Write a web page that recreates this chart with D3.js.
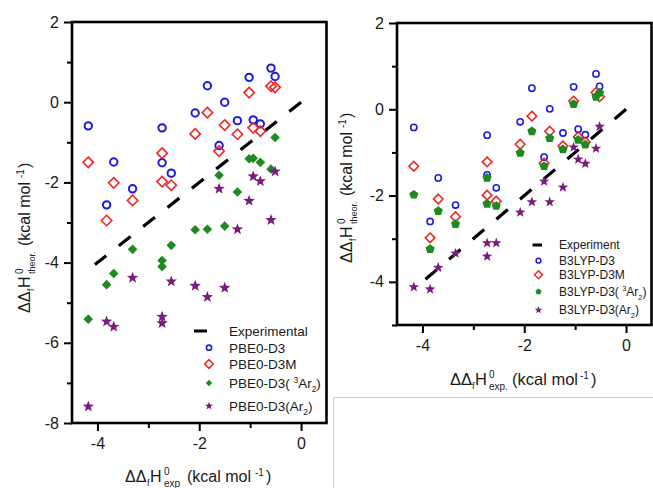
<!DOCTYPE html>
<html><head><meta charset="utf-8">
<script src="https://cdn.jsdelivr.net/npm/d3@7"></script>
<style>
html,body{margin:0;padding:0;background:#fff;}
svg{display:block;font-family:"Liberation Sans",Arial,sans-serif;}
</style></head><body>
<svg id="chart" width="653" height="488"></svg>
<script>
// ---------------- data ----------------
const xTicksMajor = [-4, -2, 0];
const xTicksMinor = [-3, -1];
const leftYTicksMajor = [-8, -6, -4, -2, 0, 2];
const leftYTicksMinor = [-7, -5, -3, -1, 1];
const rightYTicksMajor = [-4, -2, 0, 2];
const rightYTicksMinor = [-5, -3, -1, 1];

// left panel (PBE0)
const leftExpX   = [-4.18, -3.82, -3.68, -3.31, -2.73, -2.73, -2.55, -2.08, -1.84, -1.61, -1.50, -1.25, -1.02, -0.94, -0.80, -0.59, -0.51];
const pbe0D3     = [-0.59, -2.56, -1.49, -2.16, -0.64, -1.51, -1.77, -0.27,  0.41, -1.08,  0.00, -0.46,  0.62, -0.44, -0.54,  0.85,  0.64];
const pbe0D3M    = [-1.50, -2.95, -2.01, -2.45, -1.27, -1.98, -2.07, -0.79, -0.26, -1.22, -0.57, -0.80,  0.24, -0.64, -0.72,  0.40,  0.37];
const pbe0D3tAr2 = [-5.41, -4.55, -4.27, -3.67, -3.95, -4.10, -3.57, -3.18, -3.17, -1.82, -3.09, -2.24, -1.41, -1.40, -1.50, -1.67, -0.88];
const pbe0D3Ar2  = [-7.59, -5.47, -5.60, -4.38, -5.35, -5.51, -4.47, -4.58, -4.86, -2.16, -4.63, -3.17, -2.46, -1.85, -1.97, -2.94, -1.73];
const leftExpLine = [-4.05, 0];

// right panel (B3LYP)
const rightExpX   = [-4.17, -3.85, -3.69, -3.35, -2.73, -2.73, -2.55, -2.08, -1.85, -1.61, -1.50, -1.24, -1.03, -0.94, -0.80, -0.59, -0.52];
const b3lypD3     = [-0.42, -2.60, -1.59, -2.22, -0.60, -1.52, -1.82, -0.29,  0.49, -1.11,  0.01, -0.55,  0.52, -0.46, -0.59,  0.82,  0.53];
const b3lypD3M    = [-1.32, -2.98, -2.08, -2.49, -1.22, -1.99, -2.13, -0.81, -0.16, -1.25, -0.51, -0.85,  0.19, -0.64, -0.76,  0.39,  0.29];
const b3lypD3tAr2 = [-1.98, -3.24, -2.36, -2.66, -1.59, -2.19, -2.24, -1.01, -0.51, -1.32, -0.67, -0.93,  0.12, -0.71, -0.82,  0.29,  0.38];
const b3lypD3Ar2  = [-4.12, -4.17, -3.67, -3.34, -3.41, -3.10, -3.10, -2.39, -2.15, -1.67, -2.15, -1.81, -0.88, -1.16, -1.26, -0.91, -0.40];
const rightExpLine = [-4.05, 0];

const leftLegend  = ["Experimental", "PBE0-D3", "PBE0-D3M", "PBE0-D3(", "PBE0-D3(Ar"];
const rightLegend = ["Experiment", "B3LYP-D3", "B3LYP-D3M", "B3LYP-D3(", "B3LYP-D3(Ar"];

// ---------------- styles ----------------
const C = { blue: "#1c1ce0", red: "#ee2626", green: "#1f8a1f", purple: "#7a1c7e", ink: "#1a1a1a" };

const svg = d3.select("#chart");

// light gray box at bottom right
svg.append("path").attr("d", "M333.5,488 V397.5 H653")
  .attr("fill", "none").attr("stroke", "#cfcfcf").attr("stroke-width", 1);

// symbol paths
const line = d3.line();
function diamondPath(h) { return line([[0,-h],[h,0],[0,h],[-h,0]]) + "Z"; }
function pentagonPath(r) {
  const pts = d3.range(5).map(k => { const a = -Math.PI/2 + k*2*Math.PI/5; return [r*Math.cos(a), r*Math.sin(a)]; });
  return line(pts) + "Z";
}
function starPath(R, r) {
  const pts = d3.range(10).map(k => { const a = -Math.PI/2 + k*Math.PI/5; const rr = k % 2 ? r : R; return [rr*Math.cos(a), rr*Math.sin(a)]; });
  return line(pts) + "Z";
}

function drawMarker(g, kind, sz) {
  if (kind === "circle") {
    g.append("circle").attr("r", sz.c).attr("fill", "none").attr("stroke", C.blue).attr("stroke-width", sz.cw);
  } else if (kind === "diamondOpen") {
    g.append("path").attr("d", diamondPath(sz.d)).attr("fill", "none").attr("stroke", C.red).attr("stroke-width", sz.dw);
  } else if (kind === "diamondFill") {
    g.append("path").attr("d", diamondPath(sz.g)).attr("fill", C.green);
  } else if (kind === "pentagon") {
    g.append("path").attr("d", pentagonPath(sz.g)).attr("fill", C.green);
  } else if (kind === "star") {
    g.append("path").attr("d", starPath(sz.s, sz.s*0.42)).attr("fill", C.purple);
  }
}

function axisTitle(parent, transform, pieces, base) {
  const t = parent.append("text").attr("transform", transform).attr("fill", C.ink);
  pieces.forEach(p => {
    t.append("tspan").attr("x", p[1]).attr("y", p[2]).attr("font-size", p[3] || base).text(p[0]);
  });
}

function drawPanel(cfg) {
  const x = d3.scaleLinear().domain([-4.5, 0.5]).range(cfg.xr);
  const y = d3.scaleLinear().domain(cfg.yd).range(cfg.yr);
  const g = svg.append("g");

  // ticks
  const axB = g.append("g").attr("transform", `translate(0,${cfg.yr[0]})`)
    .call(d3.axisBottom(x).tickValues(xTicksMajor).tickSize(8).tickPadding(7).tickFormat(d => String(d)));
  const axBm = g.append("g").attr("transform", `translate(0,${cfg.yr[0]})`)
    .call(d3.axisBottom(x).tickValues(xTicksMinor).tickSize(5).tickFormat(""));
  const axL = g.append("g").attr("transform", `translate(${cfg.xr[0]},0)`)
    .call(d3.axisLeft(y).tickValues(cfg.yMajor).tickSize(8).tickPadding(5).tickFormat(d => String(d)));
  const axLm = g.append("g").attr("transform", `translate(${cfg.xr[0]},0)`)
    .call(d3.axisLeft(y).tickValues(cfg.yMinor).tickSize(5).tickFormat(""));
  [axB, axBm, axL, axLm].forEach(a => {
    a.select(".domain").remove();
    a.selectAll(".tick line").attr("stroke", "#000").attr("stroke-width", 2);
    a.selectAll(".tick text").attr("fill", C.ink).attr("font-size", 16)
      .attr("font-family", '"Liberation Sans", Arial, sans-serif');
  });

  // experimental line
  g.append("line")
    .attr("x1", x(cfg.expLine[1])).attr("y1", y(cfg.expLine[1]))
    .attr("x2", x(cfg.expLine[0])).attr("y2", y(cfg.expLine[0]))
    .attr("stroke", "#000").attr("stroke-width", 3.2).attr("stroke-dasharray", cfg.dash);

  // series
  cfg.series.forEach(s => {
    s.vals.forEach((v, i) => {
      const m = g.append("g").attr("transform", `translate(${x(cfg.xs[i])},${y(v)})`);
      drawMarker(m, s.kind, cfg.sz);
    });
  });

  // frame
  g.append("rect").attr("x", cfg.xr[0]).attr("y", cfg.yr[1])
    .attr("width", cfg.xr[1] - cfg.xr[0]).attr("height", cfg.yr[0] - cfg.yr[1])
    .attr("fill", "none").attr("stroke", "#000").attr("stroke-width", 2.6);

  // legend
  const L = cfg.legend;
  const lg = g.append("g").attr("font-size", L.fs).attr("fill", C.ink);
  lg.append("line").attr("x1", L.lx[0]).attr("x2", L.lx[1]).attr("y1", L.rows[0]).attr("y2", L.rows[0])
    .attr("stroke", "#000").attr("stroke-width", 3);
  cfg.series.forEach((s, k) => {
    const m = lg.append("g").attr("transform", `translate(${L.mx},${L.rows[k+1]})`);
    drawMarker(m, s.kind, L.sz);
  });
  cfg.labels.forEach((lab, k) => {
    const t = lg.append("text").attr("x", L.tx).attr("y", L.rows[k] + L.fs * 0.36);
    t.append("tspan").text(lab);
    if (k === 3) {
      t.append("tspan").attr("dx", L.fs*0.28).attr("dy", -L.fs*0.38).attr("font-size", L.fs*0.62).text("3");
      t.append("tspan").attr("dy", L.fs*0.38).text("Ar");
      t.append("tspan").attr("dy", L.fs*0.3).attr("font-size", L.fs*0.62).text("2");
      t.append("tspan").attr("dy", -L.fs*0.3).text(")");
    } else if (k === 4) {
      t.append("tspan").attr("dy", L.fs*0.3).attr("font-size", L.fs*0.62).text("2");
      t.append("tspan").attr("dy", -L.fs*0.3).text(")");
    }
  });

  // axis titles
  axisTitle(svg, `translate(${cfg.xt[0]},${cfg.xt[1]})`, [
    ["ΔΔ", 0, 0], ["f", 22, 4, 9], ["H", 25, 0], ["0", 39, -7, 10], [cfg.xsub, 39, 5, 10],
    ["(kcal mol", 62, 0], ["-1", 130, -6, 10], [")", 141, 0]
  ], cfg.tfs);
  axisTitle(svg, `translate(${cfg.yt[0]},${cfg.yt[1]}) rotate(-90)`, [
    ["ΔΔ", 0, 0], ["f", 22, 4, 9], ["H", 25, 0], ["0", 39, -7, 10], ["theor.", 39, 5, 9],
    ["(kcal mol", 67, 0], ["-1", 135, -6, 10], [")", 145, 0]
  ], 16);
}

drawPanel({
  xr: [72, 326.5], yr: [423, 22], yd: [-8, 2],
  yMajor: leftYTicksMajor, yMinor: leftYTicksMinor,
  xs: leftExpX, expLine: leftExpLine, dash: "15,16",
  series: [
    { vals: pbe0D3, kind: "circle" },
    { vals: pbe0D3M, kind: "diamondOpen" },
    { vals: pbe0D3tAr2, kind: "diamondFill" },
    { vals: pbe0D3Ar2, kind: "star" }
  ],
  sz: { c: 3.7, cw: 2, d: 5.2, dw: 1.6, g: 4.8, s: 6 },
  labels: leftLegend,
  legend: { fs: 13.5, lx: [194, 207], mx: 209, tx: 229, rows: [331, 347.7, 364, 383, 406],
            sz: { c: 2.6, cw: 1.6, d: 4.3, dw: 1.6, g: 3.2, s: 4.2 } },
  xt: [125, 482], xsub: "exp", tfs: 16,
  yt: [29.5, 313]
});

drawPanel({
  xr: [397, 651.5], yr: [325, 23], yd: [-5, 2],
  yMajor: rightYTicksMajor, yMinor: rightYTicksMinor,
  xs: rightExpX, expLine: rightExpLine, dash: "15,16",
  series: [
    { vals: b3lypD3, kind: "circle" },
    { vals: b3lypD3M, kind: "diamondOpen" },
    { vals: b3lypD3tAr2, kind: "pentagon" },
    { vals: b3lypD3Ar2, kind: "star" }
  ],
  sz: { c: 3.1, cw: 1.6, d: 4.8, dw: 1.6, g: 4.8, s: 5.5 },
  labels: rightLegend,
  legend: { fs: 12, lx: [532.5, 542], mx: 538.5, tx: 559, rows: [245, 260.7, 274.7, 291.7, 310],
            sz: { c: 2.4, cw: 1.5, d: 4, dw: 1.5, g: 3.2, s: 4 } },
  xt: [450, 385], xsub: "exp.", tfs: 16.5,
  yt: [352, 263]
});
</script>
</body></html>
